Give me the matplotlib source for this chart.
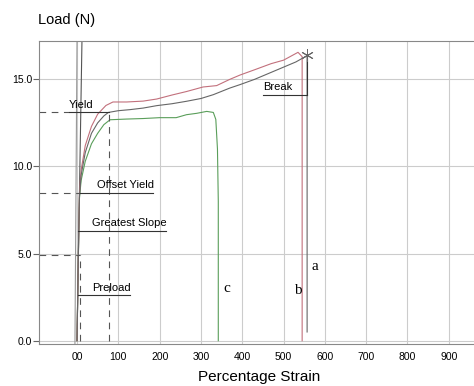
import matplotlib
matplotlib.use("Agg")
import matplotlib.pyplot as plt

plt.rcParams['font.family'] = ['Liberation Sans', 'DejaVu Sans']

# curve a (dark grey), curve b (red), curve c (green)
strain_a = [0, 2, 4, 6, 10, 20, 35, 50, 65, 76, 100, 128, 160, 193, 230, 265,
            300, 330, 370, 395, 430, 470, 500, 530, 557, 557]
load_a = [0, 3, 6, 8.3, 9.5, 10.8, 11.9, 12.5, 12.9, 13.1, 13.2, 13.26, 13.35,
          13.49, 13.6, 13.74, 13.9, 14.12, 14.5, 14.7, 15.0, 15.4, 15.7, 16.0,
          16.36, 0.5]

strain_b = [0, 2, 4, 6, 10, 20, 35, 50, 70, 87, 120, 160, 193, 230, 265, 305,
            338, 370, 395, 430, 470, 500, 535, 545, 545]
load_b = [0, 3, 6, 8.5, 9.8, 11.2, 12.3, 13.0, 13.5, 13.7, 13.7, 13.75, 13.87,
          14.1, 14.3, 14.56, 14.64, 15.0, 15.25, 15.55, 15.9, 16.1, 16.55, 16.3, 0]

strain_c = [0, 2, 4, 6, 10, 20, 35, 50, 65, 80, 120, 160, 200, 240, 265, 290,
            314, 330, 336, 340, 342, 342]
load_c = [0, 3, 6, 8.2, 9.2, 10.3, 11.3, 11.9, 12.4, 12.68, 12.72, 12.75, 12.8,
          12.8, 12.97, 13.05, 13.16, 13.1, 12.7, 11, 8, 0]

x_ticks = [0, 100, 200, 300, 400, 500, 600, 700, 800, 900]
x_labels = ['00', '100', '200', '300', '400', '500', '600', '700', '800', '900']
y_ticks = [0, 5, 10, 15]
y_labels = ['0.0', '5.0', '10.0', '15.0']

yield_pt = (77, 13.1)
offset_yield = (7, 8.5)
slope_pt = (3, 6.3)
preload_pt = (3, 2.6)
low_pt = (7, 4.9)
break_pt = (557, 16.4)

fig = plt.figure(figsize=(4.74, 3.86), dpi=100)
ax = fig.add_axes([39 / 474, 1 - 344 / 386, 1 - 39 / 474, 303 / 386])
xmin, xmax = -92, 961
ax.set_xlim(xmin, xmax)
ax.set_ylim(-0.19, 17.2)

ax.set_xticks(x_ticks)
ax.set_xticklabels(x_labels)
ax.set_yticks(y_ticks)
ax.set_yticklabels(y_labels)
ax.tick_params(axis='x', length=0, labelsize=7.5, pad=6)
ax.tick_params(axis='y', length=4, labelsize=7.5, color='#666666', pad=1)
ax.grid(True, color='#cccccc', lw=0.8)
ax.set_axisbelow(True)
for s in ['left', 'top', 'bottom']:
    ax.spines[s].set_color('#888888')
    ax.spines[s].set_linewidth(0.8)
ax.spines['right'].set_visible(False)

# slope lines near origin
ax.plot([-5, 0], [-0.2, 17.2], color='#999999', lw=0.8)
ax.plot([0, 12], [0, 17.2], color='#555555', lw=0.8)

ax.plot(strain_c, load_c, color='#5a9e5a', lw=0.8)
ax.plot(strain_b, load_b, color='#c2707c', lw=0.8)
ax.plot(strain_a, load_a, color='#666666', lw=0.8)

dash = dict(color='#555555', lw=0.8, ls=(0, (6, 5)))
solid = dict(color='#333333', lw=0.8)
fs = 8

# yield
ax.plot([xmin, -19], [yield_pt[1]] * 2, **dash)
ax.plot([-19, yield_pt[0]], [yield_pt[1]] * 2, **solid)
ax.plot([78, 78], [0, yield_pt[1]], **dash)
ax.text(-19, yield_pt[1] + 0.15, 'Yield', fontsize=fs, va='bottom')

# offset yield
ax.plot([xmin, offset_yield[0]], [offset_yield[1]] * 2, **dash)
ax.plot([offset_yield[0], 184], [offset_yield[1]] * 2, **solid)
ax.text(48, offset_yield[1] + 0.15, 'Offset Yield', fontsize=fs, va='bottom')

# greatest slope
ax.plot([slope_pt[0], 216], [slope_pt[1]] * 2, **solid)
ax.text(36, slope_pt[1] + 0.15, 'Greatest Slope', fontsize=fs, va='bottom')

ax.plot([xmin, low_pt[0]], [low_pt[1]] * 2, **dash)
ax.plot([low_pt[0]] * 2, [0, low_pt[1]], **dash)

# preload
ax.plot([preload_pt[0], 128], [preload_pt[1]] * 2, **solid)
ax.text(36, preload_pt[1] + 0.15, 'Preload', fontsize=fs, va='bottom')

# break
ax.plot([450, break_pt[0]], [14.1, 14.1], **solid)
ax.plot([break_pt[0]] * 2, [14.1, break_pt[1]], **solid)
ax.plot([break_pt[0]], [break_pt[1]], marker=(6, 2, 0), ms=9, mew=0.7,
        color='#666666')
ax.text(450, 14.25, 'Break', fontsize=fs, va='bottom')

serif = dict(family=['Liberation Serif', 'DejaVu Serif'], fontsize=11)
ax.text(576, 4.25, 'a', ha='center', va='center', **serif)
ax.text(535, 2.9, 'b', ha='center', va='center', **serif)
ax.text(363, 2.97, 'c', ha='center', va='center', **serif)

fig.text(38 / 474, 1 - 20 / 386, 'Load (N)', fontsize=10.5, va='center')
fig.text(259 / 474, 1 - 377 / 386, 'Percentage Strain', fontsize=11,
         ha='center', va='center')

fig.savefig('out.png', dpi=100)
